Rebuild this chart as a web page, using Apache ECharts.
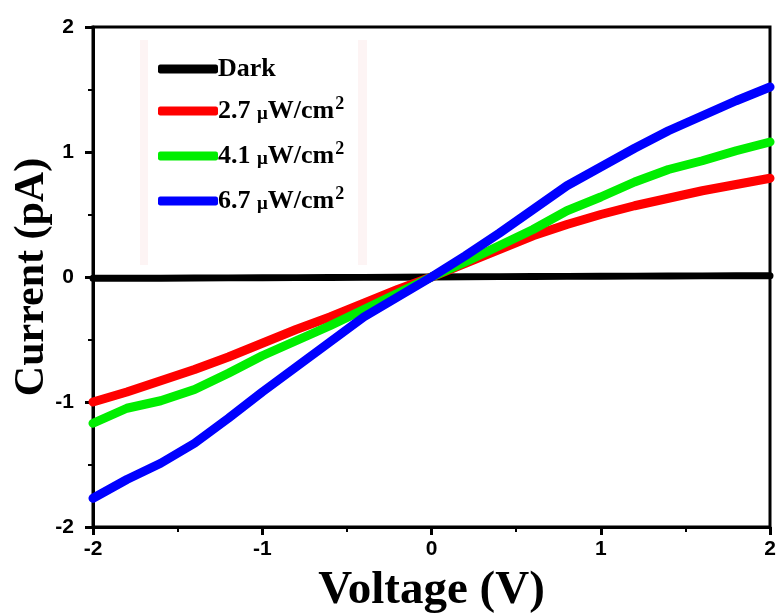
<!DOCTYPE html>
<html>
<head>
<meta charset="utf-8">
<script src="https://cdn.jsdelivr.net/npm/echarts@6/dist/echarts.min.js"></script>
<style>html,body{margin:0;padding:0;background:#fff;}#c{width:776px;height:615px;}</style>
</head>
<body>
<div id="c"></div>
<script>
var voltage = [-2,-1.8,-1.6,-1.4,-1.2,-1,-0.8,-0.6,-0.4,-0.2,0,0.2,0.4,0.6,0.8,1,1.2,1.4,1.6,1.8,2];
var dark  = [-0.01,-0.01,-0.01,-0.008,-0.007,-0.006,-0.005,-0.004,-0.003,-0.002,0,0.002,0.003,0.004,0.005,0.006,0.007,0.008,0.009,0.01,0.01];
var p27   = [-1.0,-0.92,-0.83,-0.74,-0.64,-0.53,-0.42,-0.32,-0.21,-0.10,0,0.11,0.22,0.33,0.42,0.50,0.57,0.63,0.69,0.74,0.79];
var p41   = [-1.17,-1.05,-0.99,-0.90,-0.77,-0.63,-0.51,-0.39,-0.26,-0.13,0,0.12,0.25,0.38,0.53,0.64,0.76,0.86,0.93,1.01,1.08];
var p67   = [-1.77,-1.62,-1.49,-1.33,-1.13,-0.92,-0.72,-0.52,-0.32,-0.16,0,0.17,0.35,0.54,0.73,0.88,1.03,1.17,1.29,1.41,1.52];
var seriesNames = ['Dark','2.7 \u03bcW/cm2','4.1 \u03bcW/cm2','6.7 \u03bcW/cm2'];
var xTicks = [-2,-1,0,1,2];
var yTicks = [-2,-1,0,1,2];

function pairs(ys){ return voltage.map(function(v,i){ return [v, ys[i]]; }); }

var chart = echarts.init(document.getElementById('c'));
var labelFont = {fontFamily:'Liberation Sans', fontWeight:'bold', fontSize:21, color:'#000'};
function mkSeries(name, data, color, w){
  return {name:name, type:'line', data:pairs(data), showSymbol:false, symbol:'none',
    lineStyle:{color:color, width:w, join:'round', cap:'round'}, itemStyle:{color:color}, z: 3};
}
chart.setOption({
  animation:false,
  backgroundColor:'#fff',
  grid:{left:93, right:6, top:27, bottom:88, containLabel:false, outerBoundsMode:'none',
    show:true, borderColor:'#000', borderWidth:3, backgroundColor:'transparent'},
  xAxis:{type:'value', min:-2, max:2, interval:1,
    name:'Voltage (V)', nameLocation:'middle', nameGap:40, nameMoveOverlap:false,
    nameTextStyle:{fontFamily:'Liberation Serif', fontWeight:'bold', fontSize:47, color:'#000'},
    axisLine:{show:true, onZero:false, lineStyle:{color:'#000', width:3}},
    axisTick:{show:true, length:8, lineStyle:{color:'#000', width:3}},
    minorTick:{show:true, splitNumber:2, length:5, lineStyle:{color:'#000', width:2}},
    splitLine:{show:false},
    axisLabel:Object.assign({margin:12, formatter:function(v){ return xTicks.indexOf(v)>=0 ? String(v) : ''; }}, labelFont)
  },
  yAxis:{type:'value', min:-2, max:2, interval:1,
    name:'Current (pA)', nameLocation:'middle', nameGap:40, nameMoveOverlap:false,
    nameTextStyle:{fontFamily:'Liberation Serif', fontWeight:'bold', fontSize:42, color:'#000'},
    axisLine:{show:true, onZero:false, lineStyle:{color:'#000', width:3}},
    axisTick:{show:true, length:8, lineStyle:{color:'#000', width:3}},
    minorTick:{show:true, splitNumber:2, length:5, lineStyle:{color:'#000', width:2}},
    splitLine:{show:false},
    axisLabel:Object.assign({margin:19, formatter:function(v){ return yTicks.indexOf(v)>=0 ? String(v) : ''; }}, labelFont)
  },
  legend:{orient:'vertical', left:153, top:51, itemWidth:60, itemHeight:9, itemGap:13, icon:'roundRect',
    data:seriesNames,
    formatter:function(n){
      if(n==='Dark') return '{t|Dark}';
      var p = n.split(' ');
      return '{t|' + p[0] + ' }{m|\u03bc}{t|W/cm}{s|2}';
    },
    textStyle:{padding:[0,0,0,-5], rich:{
      t:{fontFamily:'Liberation Serif', fontWeight:'bold', fontSize:26, color:'#000', lineHeight:30, verticalAlign:'middle'},
      m:{fontFamily:'Liberation Serif', fontWeight:'bold', fontSize:19, color:'#000', lineHeight:30, verticalAlign:'middle', padding:[6,0,0,0]},
      s:{fontFamily:'Liberation Serif', fontWeight:'bold', fontSize:18, color:'#000', lineHeight:30, verticalAlign:'middle', padding:[0,0,14,1]}
    }}
  },
  graphic:[
    {type:'rect', shape:{x:140, y:40, width:8, height:225}, style:{fill:'#fdf4f4'}, silent:true, z:-1},
    {type:'rect', shape:{x:358, y:40, width:9, height:225}, style:{fill:'#fdf4f4'}, silent:true, z:-1}
  ],
  series:[
    mkSeries(seriesNames[0], dark, '#000000', 7),
    mkSeries(seriesNames[1], p27, '#ff0000', 9),
    mkSeries(seriesNames[2], p41, '#00ee00', 9),
    mkSeries(seriesNames[3], p67, '#0000ff', 9)
  ]
});
</script>
</body>
</html>
